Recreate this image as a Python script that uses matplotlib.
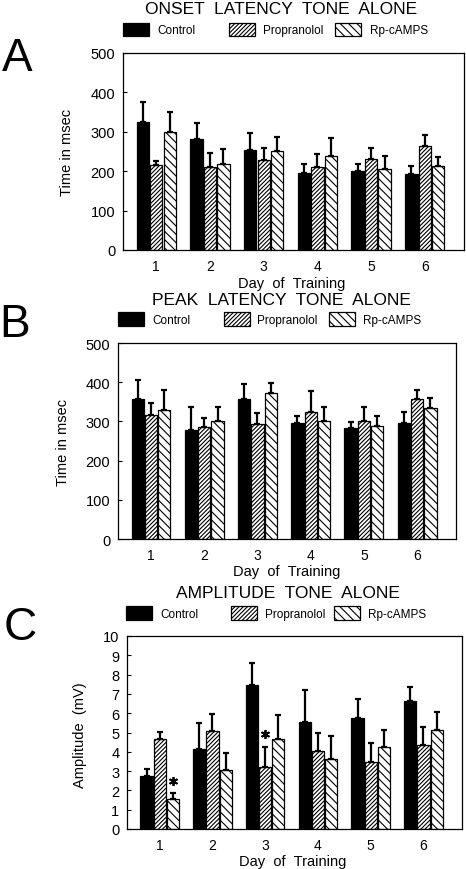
import matplotlib
matplotlib.use('Agg')
import matplotlib.pyplot as plt
from matplotlib.patches import Rectangle
import numpy as np

plt.rcParams['font.family'] = ['Liberation Sans', 'DejaVu Sans']
plt.rcParams['hatch.linewidth'] = 0.8
plt.rcParams['hatch.color'] = 'black'

# ---------------- data ----------------
days = [1, 2, 3, 4, 5, 6]
day_labels = ['1', '2', '3', '4', '5', '6']
groups = ['Control', 'Propranolol', 'Rp-cAMPS']

# Panel A: onset latency (msec), mean and SEM
onset_control = [324, 282, 254, 195, 200, 192]
onset_control_sem = [51, 40, 44, 23, 18, 22]
onset_prop = [217, 211, 229, 211, 230, 265]
onset_prop_sem = [9, 34, 30, 33, 30, 28]
onset_rp = [299, 219, 252, 238, 206, 213]
onset_rp_sem = [51, 38, 36, 46, 32, 23]

# Panel B: peak latency (msec)
peak_control = [358, 277, 358, 295, 284, 295]
peak_control_sem = [48, 61, 37, 19, 15, 30]
peak_prop = [317, 286, 293, 324, 300, 358]
peak_prop_sem = [29, 23, 28, 53, 36, 21]
peak_rp = [328, 300, 372, 300, 289, 333]
peak_rp_sem = [53, 36, 25, 37, 25, 27]

# Panel C: amplitude (mV)
amp_control = [2.73, 4.13, 7.44, 5.54, 5.76, 6.61]
amp_control_sem = [0.37, 1.35, 1.16, 1.67, 0.95, 0.74]
amp_prop = [4.67, 5.10, 3.22, 4.05, 3.48, 4.33]
amp_prop_sem = [0.36, 0.85, 1.02, 0.93, 1.00, 0.95]
amp_rp = [1.57, 3.06, 4.65, 3.63, 4.24, 5.12]
amp_rp_sem = [0.28, 0.90, 1.27, 1.21, 0.90, 0.94]

# significance stars: (day, group index, y value)
star_day = [1, 3]
star_group = [2, 1]
star_y = [2.49, 4.91]

titles = ['ONSET  LATENCY  TONE  ALONE', 'PEAK  LATENCY  TONE  ALONE', 'AMPLITUDE  TONE  ALONE']
panel_letters = ['A', 'B', 'C']
ylabels = ['Time in msec', 'Time in msec', 'Amplitude  (mV)']
xlabel = 'Day  of  Training'

# ---------------- layout (pixels) ----------------
W, H = 466, 870
fig = plt.figure(figsize=(W / 100, H / 100), dpi=100)
fig.patch.set_facecolor('white')

def fx(x):
    return x / W

def fy(y):
    return 1 - y / H

def add_axes_px(l, t, r, b):
    return fig.add_axes([fx(l), fy(b), (r - l) / W, (b - t) / H])

panels = [
    dict(box=(123, 54, 464, 251), means=[onset_control, onset_prop, onset_rp],
         sems=[onset_control_sem, onset_prop_sem, onset_rp_sem],
         ylim=(0, 500), yticks=[0, 100, 200, 300, 400, 500],
         title_xy=(281, 9.5), letter_xy=(17, 59), ylab_xy=(67, 152), xlab_xy=(292, 284),
         leg_y=(23.5, 37), leg_x=[(123, 157), (229, 263), (335, 370)], leg_ty=31),
    dict(box=(118, 344, 456, 540), means=[peak_control, peak_prop, peak_rp],
         sems=[peak_control_sem, peak_prop_sem, peak_rp_sem],
         ylim=(0, 500), yticks=[0, 100, 200, 300, 400, 500],
         title_xy=(281, 300.5), letter_xy=(15, 325), ylab_xy=(63, 442), xlab_xy=(287, 572),
         leg_y=(313, 327), leg_x=[(118, 152), (224, 257), (329, 363)], leg_ty=321),
    dict(box=(127, 637, 462, 830), means=[amp_control, amp_prop, amp_rp],
         sems=[amp_control_sem, amp_prop_sem, amp_rp_sem],
         ylim=(0, 10), yticks=list(range(0, 11)),
         title_xy=(287.5, 594), letter_xy=(20, 628), ylab_xy=(80, 735), xlab_xy=(293, 862),
         leg_y=(607, 621), leg_x=[(126, 160), (231, 265), (334, 368)], leg_ty=615),
]

faces = ['black', 'white', 'white']
hatches = [None, '/' * 8, '\\' * 4]
offsets = [-0.25, 0.0, 0.25]
bar_w = 0.23

for i, p in enumerate(panels):
    ax = add_axes_px(*p['box'])
    x = np.array(days, dtype=float)
    for g in range(3):
        xs = x + offsets[g]
        ax.bar(xs, p['means'][g], width=bar_w, color=faces[g], edgecolor='black',
               linewidth=0.9, hatch=hatches[g], zorder=2)
        ax.errorbar(xs, p['means'][g], yerr=[np.zeros(6), p['sems'][g]], fmt='none',
                    ecolor='black', elinewidth=1.6, capsize=2.5, capthick=1.6, zorder=3)
    if i == 2:
        for d, g, yv in zip(star_day, star_group, star_y):
            ax.plot([d + offsets[g]], [yv], marker=(6, 2, 0), markersize=6.5,
                    markeredgewidth=1.3, color='black', zorder=4)
    ax.set_xlim(0.38, 6.73)
    ax.set_ylim(*p['ylim'])
    ax.set_yticks(p['yticks'])
    ax.set_xticks(days)
    ax.set_xticklabels(day_labels)
    ax.tick_params(axis='y', direction='in', length=3, width=0.8, pad=5.5, labelsize=10.5)
    ax.tick_params(axis='x', length=0, pad=6.5, labelsize=10)
    for s in ax.spines.values():
        s.set_linewidth(0.9)

    # title, panel letter, axis labels
    fig.text(fx(p['title_xy'][0]), fy(p['title_xy'][1]), titles[i], ha='center', va='center',
             fontsize=12.5)
    fig.text(fx(p['letter_xy'][0]), fy(p['letter_xy'][1]), panel_letters[i], ha='center',
             va='center', fontsize=33)
    fig.text(fx(p['ylab_xy'][0]), fy(p['ylab_xy'][1]), ylabels[i], ha='center', va='center',
             rotation=90, fontsize=10.5)
    fig.text(fx(p['xlab_xy'][0]), fy(p['xlab_xy'][1]), xlabel, ha='center', va='center',
             fontsize=10.5)

    # legend
    t, b = p['leg_y']
    for g in range(3):
        lx, tx = p['leg_x'][g]
        rect = Rectangle((fx(lx), fy(b)), 26 / W, (b - t) / H, transform=fig.transFigure,
                         facecolor=faces[g], edgecolor='black', linewidth=0.9,
                         hatch=hatches[g])
        fig.add_artist(rect)
        fig.text(fx(tx), fy(p['leg_ty']), groups[g], ha='left', va='center', fontsize=8.5)

fig.savefig('out.png', dpi=100, facecolor='white')
